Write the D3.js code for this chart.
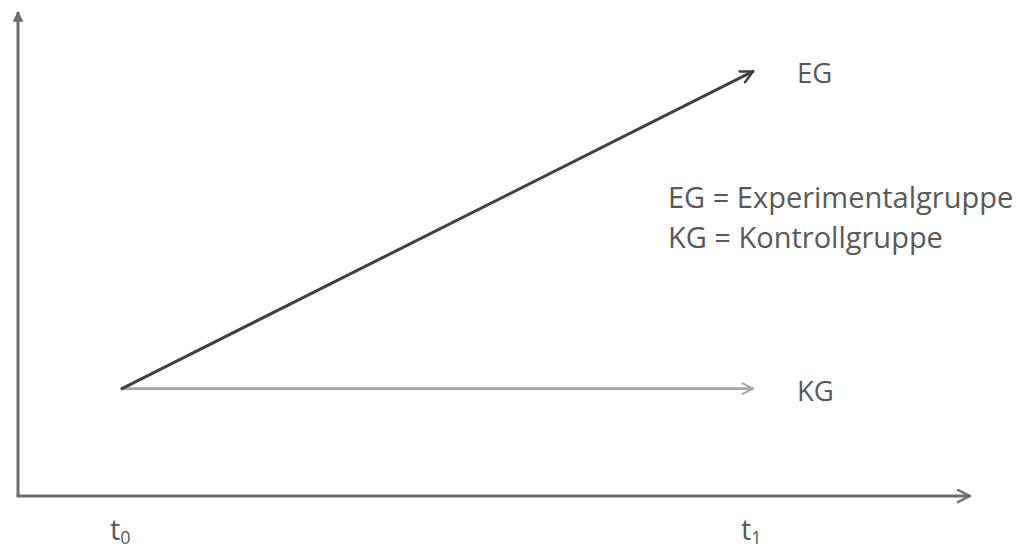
<!DOCTYPE html>
<html><head><meta charset="utf-8">
<script src="https://cdn.jsdelivr.net/npm/d3@7"></script>
<style>html,body{margin:0;padding:0;background:#fff;}svg{display:block;}</style>
</head><body>
<div id="chart"></div>
<script>
const timePoints = ["t0", "t1"];
const timeLabels = [{base: "t", sub: "0"}, {base: "t", sub: "1"}];
const seriesNames = ["EG", "KG"];
const egValues = [22, 87];
const kgValues = [22, 22];
const legendLines = ["EG = Experimentalgruppe", "KG = Kontrollgruppe"];

const W = 1019, H = 548;
const svg = d3.select("#chart").append("svg").attr("width", W).attr("height", H);
const font = "'Open Sans', 'Noto Sans', sans-serif";
const textColor = "#595959";

const x = d3.scalePoint().domain(timePoints).range([122, 753]);
const y = d3.scaleLinear().domain([0, 100]).range([496, 8]);
const axisLeft = 18, axisRight = 970;

const defs = svg.append("defs");
function chevron(id, color) {
  defs.append("marker").attr("id", id).attr("viewBox", "0 0 10 10")
    .attr("refX", 9).attr("refY", 5).attr("markerWidth", 5).attr("markerHeight", 5)
    .attr("markerUnits", "strokeWidth").attr("orient", "auto")
    .append("path").attr("d", "M1,1 L9,5 L1,9").attr("fill", "none")
    .attr("stroke", color).attr("stroke-width", 1.6).attr("stroke-linecap", "round").attr("stroke-linejoin", "round");
}
chevron("arrEG", "#404040");
chevron("arrKG", "#a6a6a6");
chevron("arrX", "#6d6d6d");
defs.append("marker").attr("id", "arrY").attr("viewBox", "0 0 10 10")
  .attr("refX", 9).attr("refY", 5).attr("markerWidth", 3.6).attr("markerHeight", 3.6)
  .attr("markerUnits", "strokeWidth").attr("orient", "auto")
  .append("path").attr("d", "M0,0 L10,5 L0,10 Z").attr("fill", "#6d6d6d");

// axes
svg.append("path").attr("d", `M${axisLeft},${y(0)} L${axisLeft},${y(100)+4}`)
  .attr("stroke", "#6d6d6d").attr("stroke-width", 3).attr("fill", "none").attr("marker-end", "url(#arrY)");
svg.append("path").attr("d", `M${axisLeft-1.5},${y(0)} L${axisRight},${y(0)}`)
  .attr("stroke", "#6d6d6d").attr("stroke-width", 3).attr("fill", "none").attr("marker-end", "url(#arrX)");

const line = d3.line().x((d, i) => x(timePoints[i])).y(d => y(d));
svg.append("path").datum(kgValues).attr("d", line)
  .attr("stroke", "#a6a6a6").attr("stroke-width", 2.6).attr("fill", "none").attr("marker-end", "url(#arrKG)");
svg.append("path").datum(egValues).attr("d", line)
  .attr("stroke", "#404040").attr("stroke-width", 3).attr("fill", "none").attr("stroke-linecap", "round").attr("marker-end", "url(#arrEG)");

// series labels
const endVals = [egValues[1], kgValues[1]];
svg.selectAll(".slab").data(seriesNames).enter().append("text")
  .attr("x", 797).attr("y", (d, i) => y(endVals[i]) + 12)
  .attr("font-family", font).attr("font-size", 27.5).attr("fill", textColor).text(d => d);

// legend
svg.selectAll(".leg").data(legendLines).enter().append("text")
  .attr("x", 668).attr("y", (d, i) => 208 + i * 40)
  .attr("font-family", font).attr("font-size", 29).attr("fill", textColor).text(d => d);

// time labels
const tl = svg.selectAll(".tl").data(timeLabels).enter().append("text")
  .attr("x", (d, i) => x(timePoints[i]) - 12).attr("y", 540)
  .attr("font-family", font).attr("font-size", 29).attr("fill", textColor);
tl.append("tspan").text(d => d.base);
tl.append("tspan").attr("font-size", 18).attr("dy", 4).text(d => d.sub);
</script>
</body></html>
